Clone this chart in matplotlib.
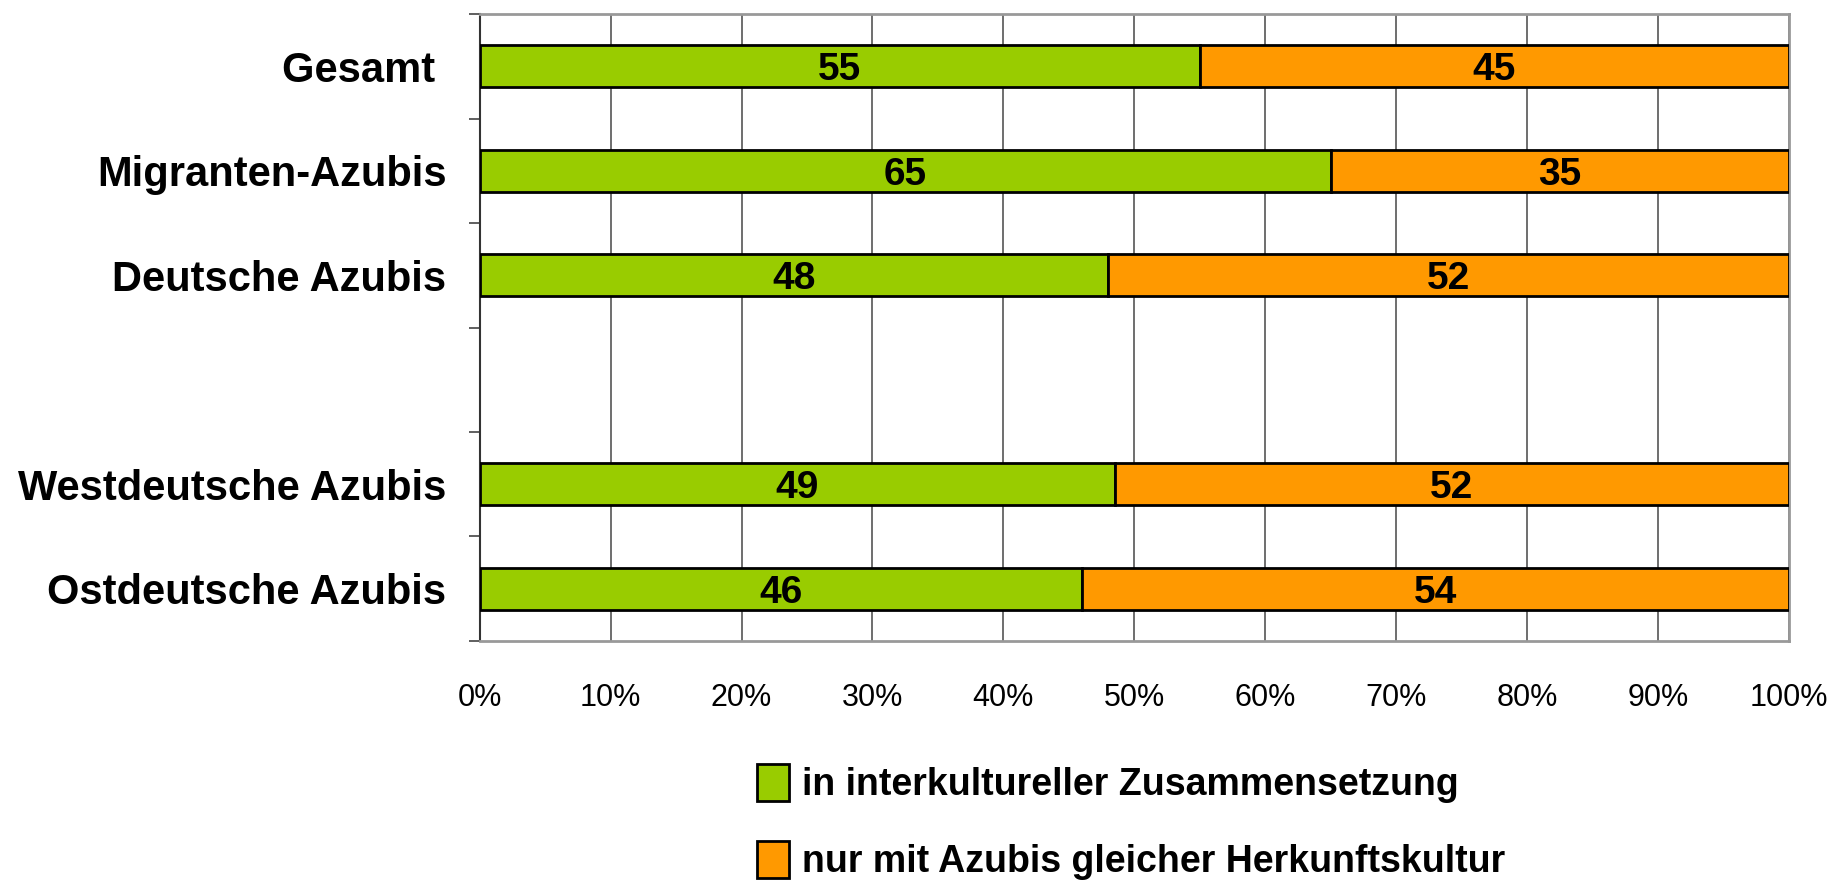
import numpy as np
import matplotlib.pyplot as plt
import matplotlib as mpl
from matplotlib.ticker import FixedLocator, PercentFormatter

mpl.rcParams['font.family'] = ['Liberation Sans', 'DejaVu Sans']

# data (empty row keeps the gap between the groups)
categories = ['Gesamt ', 'Migranten-Azubis', 'Deutsche Azubis', '',
              'Westdeutsche Azubis', 'Ostdeutsche Azubis']
inter = [55, 65, 48, None, 49, 46]
gleich = [45, 35, 52, None, 52, 54]
series_names = ['in interkultureller Zusammensetzung',
                'nur mit Azubis gleicher Herkunftskultur']
x_ticks = [0, 10, 20, 30, 40, 50, 60, 70, 80, 90, 100]

green = '#99CC00'
orange = '#FF9900'
bar_h = 0.4

fig = plt.figure(figsize=(18.31, 8.84), dpi=100)
ax = fig.add_axes([0.262, 0.275, 0.715, 0.709])

ys = np.arange(len(categories))
for y, a, b in zip(ys, inter, gleich):
    if a is None:
        continue
    tot = a + b
    pa = a / tot * 100
    pb = b / tot * 100
    ax.barh(y, pa, bar_h, left=0, color=green, edgecolor='k', linewidth=2, zorder=3)
    ax.barh(y, pb, bar_h, left=pa, color=orange, edgecolor='k', linewidth=2, zorder=3)
    ax.text(pa / 2, y, str(a), ha='center', va='center_baseline', fontsize=28,
            fontweight='bold', zorder=4)
    ax.text(pa + pb / 2, y, str(b), ha='center', va='center_baseline', fontsize=28,
            fontweight='bold', zorder=4)

ax.set_xlim(0, 100)
ax.set_ylim(len(categories) - 0.5, -0.5)

ax.set_xticks(x_ticks)
ax.xaxis.set_major_formatter(PercentFormatter(decimals=0))
ax.tick_params(axis='x', length=0, pad=30, labelsize=22)
ax.grid(axis='x', color='#555555', linewidth=1.2, zorder=0)

ax.set_yticks(ys)
ax.set_yticklabels(categories, fontsize=30, fontweight='bold')
ax.tick_params(axis='y', which='major', length=0, pad=24)
ax.yaxis.set_minor_locator(FixedLocator(np.arange(-0.5, len(categories), 1)))
ax.tick_params(axis='y', which='minor', length=8, width=1.2, color='#444444')

for s in ['top', 'right', 'bottom']:
    ax.spines[s].set_color('#999999')
    ax.spines[s].set_linewidth(2)
ax.spines['left'].set_color('#333333')
ax.spines['left'].set_linewidth(1.5)

handles = [mpl.patches.Patch(facecolor=green, edgecolor='k', linewidth=2),
           mpl.patches.Patch(facecolor=orange, edgecolor='k', linewidth=2)]
leg = fig.legend(handles, series_names, loc='upper left',
                 bbox_to_anchor=(0.403, 0.157), frameon=False,
                 prop={'size': 27, 'weight': 'bold'},
                 handlelength=0.85, handleheight=1.15,
                 handletextpad=0.35, labelspacing=1.0, borderpad=0)

fig.savefig('out.png', dpi=100)
